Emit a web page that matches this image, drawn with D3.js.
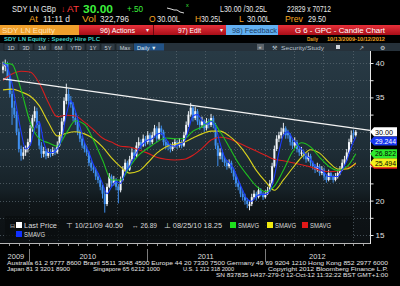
<!DOCTYPE html>
<html lang="en">
<head>
<meta charset="utf-8">
<title>SDY LN - Candle Chart</title>
<script src="https://cdn.jsdelivr.net/npm/d3@7"></script>
<style>
  body { margin: 0; background: #000; }
  svg { display: block; }
  text { font-family: "Liberation Sans", Arial, sans-serif; }
</style>
</head>
<body>
<script>
var w = 400, h = 286;

// weekly candles, week 0 = 13 Oct 2009
var firstWeek = new Date(2009, 9, 13);
var openVals = [
  39.0, 39.5, 40.0, 38.0, 35.5, 33.5, 32.5, 30.0, 27.5, 26.5,
  27.0, 27.5, 28.5, 30.5, 32.0, 33.0, 31.0, 28.0, 26.8, 27.2,
  26.5, 27.0, 26.8, 27.3, 27.0, 28.0, 29.5, 31.5, 34.5, 35.5,
  34.5, 34.0, 32.0, 31.5, 30.0, 29.0, 28.0, 27.5, 27.0, 25.5,
  24.8, 24.5, 23.5, 23.0, 22.0, 21.0, 19.5, 22.0, 23.5, 22.5,
  23.0, 22.0, 21.5, 23.0, 24.5, 25.5, 24.5, 26.0, 27.0, 26.5,
  28.0, 28.5, 28.0, 29.0, 28.5, 29.5, 28.5, 29.5, 30.5, 29.0,
  30.5, 30.0, 28.5, 28.3, 28.0, 27.5, 28.0, 28.5, 28.0, 28.5,
  28.0, 29.5, 31.0, 32.5, 33.5, 32.0, 33.0, 31.5, 31.0, 31.5,
  30.5, 31.5, 31.0, 32.0, 31.0, 28.0, 26.5, 27.0, 26.0, 25.5,
  25.0, 25.5, 24.5, 23.5, 22.5, 22.0, 21.0, 20.5, 20.0, 19.2,
  19.5, 20.5, 21.0, 20.5, 21.5, 21.0, 20.5, 21.0, 21.5, 22.5,
  25.0, 27.5, 29.0, 29.5, 30.0, 30.5, 29.8, 29.5, 28.5, 28.0,
  28.5, 27.5, 26.8, 27.0, 26.5, 26.0, 26.5, 25.5, 25.0, 24.5,
  25.0, 24.0, 24.5, 23.5, 23.0, 24.0, 23.5, 23.0, 23.5, 24.0,
  24.5, 25.5, 26.0, 27.0, 28.5, 29.8, 29.5
];
var highVals = [
  40.2, 40.5, 40.2, 38.5, 36.0, 34.5, 33.0, 30.5, 28.0, 27.8,
  28.0, 29.0, 31.0, 32.5, 33.7, 33.5, 31.5, 28.5, 27.8, 27.5,
  27.6, 27.5, 27.8, 27.7, 28.6, 30.0, 32.0, 35.0, 37.0, 36.2,
  35.2, 34.3, 32.8, 31.8, 30.3, 29.4, 28.5, 28.0, 27.2, 25.9,
  25.3, 24.8, 24.0, 23.3, 22.3, 21.5, 22.5, 24.0, 23.8, 23.6,
  23.3, 22.4, 23.5, 25.0, 26.0, 25.8, 26.5, 27.6, 27.4, 28.5,
  29.2, 28.9, 29.6, 29.4, 30.1, 29.8, 30.0, 31.0, 30.8, 31.4,
  30.9, 30.3, 28.9, 28.6, 28.3, 28.5, 29.0, 28.8, 29.1, 28.8,
  30.0, 31.5, 33.0, 34.2, 33.8, 33.6, 33.3, 31.8, 32.2, 31.8,
  32.0, 31.9, 32.6, 32.3, 31.3, 28.4, 27.6, 27.3, 26.4, 25.9,
  26.0, 25.8, 24.8, 23.8, 22.9, 22.3, 21.5, 21.0, 20.4, 20.0,
  21.0, 21.5, 21.3, 22.0, 21.8, 21.3, 21.5, 22.0, 23.0, 25.5,
  28.0, 29.5, 30.0, 30.6, 31.3, 30.8, 30.3, 29.8, 28.9, 29.2,
  28.8, 27.9, 27.8, 27.3, 26.9, 27.0, 26.8, 25.8, 25.3, 25.5,
  25.3, 25.0, 24.8, 23.8, 24.5, 24.3, 23.8, 24.0, 24.5, 25.0,
  26.0, 26.5, 27.5, 29.0, 30.2, 30.3, 30.25
];
var lowVals = [
  38.5, 38.8, 37.5, 35.0, 31.0, 32.0, 29.5, 27.0, 25.8, 26.0,
  26.5, 27.0, 28.0, 30.0, 31.5, 30.5, 27.5, 26.2, 26.3, 26.0,
  26.2, 26.3, 26.5, 26.6, 26.8, 27.8, 29.0, 31.0, 34.0, 33.8,
  33.5, 31.5, 31.0, 29.5, 28.5, 27.6, 27.0, 26.5, 25.0, 24.3,
  24.0, 23.0, 22.5, 21.5, 20.3, 18.25, 19.2, 21.8, 22.0, 22.2,
  21.5, 19.6, 21.2, 22.8, 24.2, 24.0, 24.3, 25.7, 26.0, 26.3,
  27.6, 27.5, 27.8, 27.9, 28.2, 28.0, 28.2, 29.2, 28.5, 28.8,
  29.5, 28.0, 27.5, 27.3, 27.0, 27.2, 27.7, 27.5, 27.7, 27.6,
  27.8, 29.2, 30.7, 32.2, 31.5, 31.7, 31.0, 30.3, 30.6, 30.0,
  30.2, 30.5, 30.7, 30.5, 27.5, 25.0, 26.0, 25.6, 25.0, 24.5,
  24.7, 24.0, 23.0, 22.0, 21.5, 20.5, 20.0, 19.4, 18.9, 18.6,
  19.2, 20.2, 20.0, 20.3, 20.6, 20.1, 20.3, 20.8, 21.3, 22.3,
  24.8, 27.2, 28.5, 29.0, 29.6, 29.0, 29.0, 28.0, 27.5, 27.7,
  27.0, 26.5, 26.5, 26.0, 25.5, 25.7, 25.0, 24.5, 24.0, 24.2,
  23.6, 23.7, 23.0, 22.6, 22.8, 23.0, 22.6, 22.8, 23.2, 23.7,
  24.3, 25.2, 25.8, 26.8, 28.2, 29.0, 29.3
];
var closeVals = [
  39.5, 40.0, 38.0, 35.5, 33.5, 32.5, 30.0, 27.5, 26.5, 27.0,
  27.5, 28.5, 30.5, 32.0, 33.0, 31.0, 28.0, 26.8, 27.2, 26.5,
  27.0, 26.8, 27.3, 27.0, 28.0, 29.5, 31.5, 34.5, 35.5, 34.5,
  34.0, 32.0, 31.5, 30.0, 29.0, 28.0, 27.5, 27.0, 25.5, 24.8,
  24.5, 23.5, 23.0, 22.0, 21.0, 19.5, 22.0, 23.5, 22.5, 23.0,
  22.0, 21.5, 23.0, 24.5, 25.5, 24.5, 26.0, 27.0, 26.5, 28.0,
  28.5, 28.0, 29.0, 28.5, 29.5, 28.5, 29.5, 30.5, 29.0, 30.5,
  30.0, 28.5, 28.0, 28.0, 27.5, 28.0, 28.5, 28.0, 28.5, 28.0,
  29.5, 31.0, 32.5, 33.5, 32.0, 33.0, 31.5, 31.0, 31.5, 30.5,
  31.5, 31.0, 32.0, 31.0, 28.0, 26.5, 27.0, 26.0, 25.5, 25.0,
  25.5, 24.5, 23.5, 22.5, 22.0, 21.0, 20.5, 20.0, 19.5, 19.5,
  20.5, 21.0, 20.5, 21.5, 21.0, 20.5, 21.0, 21.5, 22.5, 25.0,
  27.5, 29.0, 29.5, 30.0, 30.5, 29.5, 29.5, 28.5, 28.0, 28.5,
  27.5, 27.0, 27.0, 26.5, 26.0, 26.5, 25.5, 25.0, 24.5, 25.0,
  24.0, 24.5, 23.5, 23.0, 24.0, 23.5, 23.0, 23.5, 24.0, 24.5,
  25.5, 26.0, 27.0, 28.5, 29.5, 29.5, 30.0
];

// moving averages: blue every 2 weeks, the others every 4 weeks from week 0
var blueVals = [
  40.0, 39.3, 37.0, 33.5, 30.0, 27.5, 28.0, 30.5, 31.5, 28.5,
  27.0, 27.0, 27.5, 29.0, 32.5, 34.5, 33.0, 30.8, 28.5, 27.0,
  25.2, 24.0, 22.5, 21.0, 22.0, 22.8, 22.5, 24.0, 25.0, 26.3,
  27.5, 28.3, 28.8, 29.0, 29.6, 29.8, 29.0, 28.0, 27.9, 28.2,
  28.5, 30.3, 32.3, 32.5, 31.7, 31.1, 31.5, 30.7, 28.3, 26.3,
  25.5, 24.6, 23.0, 21.5, 20.2, 19.9, 20.6, 20.9, 20.9, 21.5,
  23.5, 27.0, 29.5, 30.0, 29.0, 28.2, 27.5, 26.6, 26.0, 25.1,
  24.6, 24.1, 23.5, 23.5, 23.5, 24.5, 25.8, 27.8, 29.244
];
var greenVals = [
  40.0, 39.8, 36.1, 31.4, 29.0, 28.4, 27.9, 29.8, 31.6, 31.1,
  28.8, 25.9, 23.0, 23.0, 24.9, 26.6, 27.6, 28.5, 29.1, 29.0,
  29.0, 30.1, 30.7, 31.6, 30.0, 27.8, 25.5, 23.7, 22.1, 21.3,
  22.1, 24.4, 27.1, 28.4, 27.8, 26.3, 25.0, 24.4, 24.9, 26.822
];
var yellowVals = [
  36.1, 36.2, 35.8, 35.2, 33.8, 31.4, 29.4, 29.8, 30.0, 29.7,
  29.0, 27.8, 26.2, 24.9, 24.0, 24.3, 25.5, 26.9, 27.8, 28.2,
  28.5, 29.1, 29.7, 30.1, 30.1, 29.4, 28.2, 26.5, 24.4, 22.8,
  21.5, 23.0, 24.7, 26.3, 27.4, 26.9, 25.6, 24.6, 24.6, 25.494
];
var redVals = [
  37.5, 38.4, 38.8, 38.7, 37.1, 34.3, 32.2, 32.4, 32.3, 31.4,
  30.3, 29.1, 28.5, 27.9, 27.8, 27.4, 26.9, 26.3, 26.0, 25.9,
  26.0, 26.6, 27.6, 28.8, 29.2, 29.0, 28.4, 27.8, 27.2, 26.6,
  26.0, 25.8, 25.5, 25.2, 24.9, 24.4, 24.2, 24.3, 24.7, 25.3
];

// drawn trend line
var trendDates = [new Date(2009, 9, 13), new Date(2012, 10, 22)];
var trendVals = [37.7, 30.2];

var endLabels = ["30.00", "29.244", "26.822", "25.494"];
var priceTicks = [15, 20, 25, 30, 35, 40];
var yearLabels = ["2009", "2010", "2011", "2012"];

var footer1 = "Australia 61 2 9777 8600 Brazil 5511 3048 4500 Europe 44 20 7330 7500 Germany 49 69 9204 1210 Hong Kong 852 2977 6000";
var footer2 = ["Japan 81 3 3201 8900", "Singapore 65 6212 1000", "U.S. 1 212 318 2000", "Copyright 2012 Bloomberg Finance L.P."];
var footer3 = "SN 837835 H437-279-0 12-Oct-12 11:32:22 BST  GMT+1:00";

var plotTop = 51, plotBottom = 243, plotLeft = 0, plotRight = 370;

var x = d3.scaleTime()
  .domain([new Date(2009, 9, 13), new Date(2012, 10, 22)])
  .range([3, plotRight]);
var y = d3.scaleLinear().domain([15, 40]).range([235, 63]);

var weekDate = function(i) { return d3.timeDay.offset(firstWeek, 7 * i); };

var svg = d3.select("body").append("svg")
  .attr("width", w).attr("height", h)
  .style("background", "#000");

var defs = svg.append("defs");
var bg = defs.append("linearGradient").attr("id", "plotbg")
  .attr("x1", 0).attr("y1", 0).attr("x2", 0).attr("y2", 1);
bg.append("stop").attr("offset", "0%").attr("stop-color", "#283a45");
bg.append("stop").attr("offset", "50%").attr("stop-color", "#1f2e37");
bg.append("stop").attr("offset", "72%").attr("stop-color", "#162127");
bg.append("stop").attr("offset", "80%").attr("stop-color", "#0f1518");
bg.append("stop").attr("offset", "100%").attr("stop-color", "#0c1013");
var redbar = defs.append("linearGradient").attr("id", "redbar")
  .attr("x1", 0).attr("y1", 0).attr("x2", 0).attr("y2", 1);
redbar.append("stop").attr("offset", "0%").attr("stop-color", "#e8303a");
redbar.append("stop").attr("offset", "100%").attr("stop-color", "#a80e18");
defs.append("clipPath").attr("id", "plotclip").append("rect")
  .attr("x", plotLeft).attr("y", plotTop)
  .attr("width", plotRight - plotLeft).attr("height", plotBottom - plotTop);

function label(px, py, s, fill, size, opt) {
  opt = opt || {};
  var t = svg.append("text").attr("x", px).attr("y", py).text(s)
    .attr("fill", fill).attr("font-size", size);
  if (opt.len) t.attr("textLength", opt.len).attr("lengthAdjust", "spacingAndGlyphs");
  if (opt.weight) t.attr("font-weight", opt.weight);
  if (opt.anchor) t.attr("text-anchor", opt.anchor);
  return t;
}

// ---- header ----
var orange = "#f5a623", white = "#e8e8e8", green = "#3cf03c";
label(12, 12, "SDY LN GBp", white, 8.5, {len: 44});
label(61, 12, "\u2193", "#ff2a2a", 8.5, {weight: "bold"});
label(67, 12, "AT", "#ff3b3b", 8.5, {len: 12});
label(83, 13, "30.00", green, 10.5, {len: 30, weight: "bold"});
label(127, 12, "+.50", green, 8.5, {len: 16});
svg.append("path").attr("d", "M167,8 L171,9 L174,10 L177,10 L180,12 L184,13")
  .attr("fill", "none").attr("stroke", "#ddd").attr("stroke-width", 1);
label(186, 7, "x", green, 5.5);
label(220, 12, "L30.00 /30.25L", white, 8.5, {len: 47});
label(287, 12, "22829 x 70712", white, 8.5, {len: 44});

label(29, 22, "At", orange, 8.5, {len: 9});
label(43, 22, "11:11 d", white, 8.5, {len: 27});
label(82, 22, "Vol", orange, 8.5, {len: 14});
label(100, 22, "322,796", white, 8.5, {len: 29});
label(149, 22, "O", orange, 8.5);
label(157, 22, "30.00L", white, 8.5, {len: 23});
label(195, 22, "H", orange, 8.5);
label(201, 22, "30.25L", white, 8.5, {len: 21});
label(239, 22, "L", orange, 8.5);
label(247, 22, "30.00L", white, 8.5, {len: 23});
label(285, 22, "Prev", orange, 8.5, {len: 18});
label(308, 22, "29.50", white, 8.5, {len: 18});

// menu bar
svg.append("rect").attr("x", 0).attr("y", 25).attr("width", 79).attr("height", 10).attr("fill", "#f0a02c");
label(2, 33, "SDY LN Equity", "#ffe2b4", 8, {len: 53});
svg.append("rect").attr("x", 79).attr("y", 25).attr("width", 321).attr("height", 10).attr("fill", "url(#redbar)");
svg.append("rect").attr("x", 153).attr("y", 25).attr("width", 1).attr("height", 10).attr("fill", "#6a0810");
svg.append("rect").attr("x", 226).attr("y", 25).attr("width", 52).attr("height", 10).attr("fill", "#62b0f2");
label(100, 33, "96) Actions", "#fff", 8, {len: 35});
label(146, 32, "\u25be", "#eee", 6);
label(178, 33, "97) Edit", "#fff", 8, {len: 23});
label(220, 32, "\u25be", "#eee", 6);
label(232, 33, "98) Feedback", "#1b3d66", 8, {len: 45});
label(295, 33, "G 6 - GPC - Candle Chart", "#fff", 8, {len: 90});

label(4, 41, "SDY LN Equity : Speedy Hire PLC", "#3fcfc6", 5.8, {len: 96, weight: "bold"});
label(307, 41, "Daily", "#f0a020", 5.8, {len: 11, weight: "bold"});
label(327, 41, "10/13/2009-10/12/2012", "#f0a020", 5.8, {len: 58, weight: "bold"});

// toolbar
svg.append("rect").attr("x", 0).attr("y", 43).attr("width", 400).attr("height", 8).attr("fill", "#26313a");
var tbX = [4, 19, 34, 51, 67, 86, 101, 116];
var tbLab = ["1D", "3D", "1M", "6M", "YTD", "1Y", "5Y", "Max"];
var tbW = [14, 14, 16, 15, 18, 14, 14, 18];
tbLab.forEach(function(s, i) {
  svg.append("rect").attr("x", tbX[i]).attr("y", 43.5).attr("width", tbW[i]).attr("height", 7)
    .attr("fill", "#2e3a44").attr("stroke", "#151b20").attr("stroke-width", 0.6);
  label(tbX[i] + tbW[i] / 2, 49.5, s, "#c5ced6", 5.6, {anchor: "middle"});
});
svg.append("rect").attr("x", 134).attr("y", 43.5).attr("width", 30).attr("height", 7).attr("fill", "#225286");
label(137, 49.5, "Daily \u25bc", "#dfe8f2", 5.6);
svg.append("rect").attr("x", 257).attr("y", 44).attr("width", 7).attr("height", 6).attr("fill", "#5c646b");
label(258.5, 49, "\u00ab", "#ddd", 5.5);
label(272, 49.5, "\u2692", "#b8c4cf", 6);
label(281, 49.5, "Security/Study", "#b8c4cf", 5.8, {len: 43});
svg.append("rect").attr("x", 336).attr("y", 45).attr("width", 4).attr("height", 4).attr("fill", "#cfd6dc");
label(359, 49.5, "\u2197", "#cfd6dc", 6);
label(380, 49.5, "\u2699", "#cfd6dc", 6);

// ---- plot area ----
svg.append("rect").attr("x", plotLeft).attr("y", plotTop)
  .attr("width", plotRight - plotLeft).attr("height", plotBottom - plotTop)
  .attr("fill", "url(#plotbg)");

var plot = svg.append("g").attr("clip-path", "url(#plotclip)");

// grid
plot.selectAll("line.vgrid")
  .data(d3.timeMonth.every(3).range(x.domain()[0], x.domain()[1]))
  .enter().append("line").attr("class", "vgrid")
  .attr("x1", function(d) { return Math.round(x(d)) + 0.5; })
  .attr("x2", function(d) { return Math.round(x(d)) + 0.5; })
  .attr("y1", plotTop).attr("y2", plotBottom)
  .attr("stroke", "#5d6a73").attr("stroke-width", 0.7).attr("stroke-dasharray", "1,2");
plot.selectAll("line.hgrid")
  .data(d3.range(15, 40.1, 2.5))
  .enter().append("line").attr("class", "hgrid")
  .attr("x1", plotLeft).attr("x2", plotRight)
  .attr("y1", function(d) { return Math.round(y(d)) + 0.5; })
  .attr("y2", function(d) { return Math.round(y(d)) + 0.5; })
  .attr("stroke", "#5d6a73").attr("stroke-width", 0.7).attr("stroke-dasharray", "1,2");

// candles
var candles = closeVals.map(function(c, i) {
  return {date: weekDate(i), o: openVals[i], hi: highVals[i], lo: lowVals[i], c: c};
});
var upCol = "#f2f6fa", downCol = "#3f8ff0";
var cg = plot.selectAll("g.candle").data(candles).enter().append("g").attr("class", "candle");
cg.append("line")
  .attr("x1", function(d) { return x(d.date); })
  .attr("x2", function(d) { return x(d.date); })
  .attr("y1", function(d) { return y(d.hi); })
  .attr("y2", function(d) { return y(d.lo); })
  .attr("stroke", function(d) { return d.c >= d.o ? "#e4eaf0" : downCol; })
  .attr("stroke-width", 1);
cg.append("rect")
  .attr("x", function(d) { return x(d.date) - 1; })
  .attr("width", 2)
  .attr("y", function(d) { return y(Math.max(d.o, d.c)); })
  .attr("height", function(d) { return Math.max(1, Math.abs(y(d.o) - y(d.c))); })
  .attr("fill", function(d) { return d.c >= d.o ? upCol : downCol; });

// moving averages
function smaLine(vals, step, color) {
  var pts = vals.map(function(v, i) { return [weekDate(i * step), v]; });
  plot.append("path").datum(pts)
    .attr("d", d3.line().curve(d3.curveMonotoneX)
      .x(function(d) { return x(d[0]); })
      .y(function(d) { return y(d[1]); }))
    .attr("fill", "none").attr("stroke", color).attr("stroke-width", 1.1);
}
smaLine(redVals, 4, "#d81e1e");
smaLine(yellowVals, 4, "#d9d21c");
smaLine(greenVals, 4, "#1fc21f");
smaLine(blueVals, 2, "#1c3cff");

// trend line
plot.append("path").datum(trendDates.map(function(d, i) { return [d, trendVals[i]]; }))
  .attr("d", d3.line().x(function(d) { return x(d[0]); }).y(function(d) { return y(d[1]); }))
  .attr("fill", "none").attr("stroke", "#f4f4f4").attr("stroke-width", 1.4);

// legend
svg.append("rect").attr("x", 5).attr("y", 216).attr("width", 348).attr("height", 23)
  .attr("fill", "#0a0d0f").attr("opacity", 0.75);
label(9.5, 228, "\u229f", "#bbb", 6);
svg.append("rect").attr("x", 16).attr("y", 222).attr("width", 6).attr("height", 6).attr("fill", "#fff");
label(24, 228, "Last Price", "#dcdcdc", 6.5, {len: 33});
label(66, 228, "\u22a4 10/21/09 40.50", "#dcdcdc", 6.5, {len: 57});
label(132, 228, "\u2194 26.89", "#dcdcdc", 6.5, {len: 25});
label(164, 228, "\u22a5 08/25/10 18.25", "#dcdcdc", 6.5, {len: 58});
var legSq = [[230, "#1ee01e"], [267, "#f0ea10"], [302, "#e01818"]];
legSq.forEach(function(s) {
  svg.append("rect").attr("x", s[0]).attr("y", 222).attr("width", 6).attr("height", 6).attr("fill", s[1]);
  label(s[0] + 8, 228, "SMAVG", "#dcdcdc", 6.5, {len: 21});
});
svg.append("rect").attr("x", 16).attr("y", 231).attr("width", 6).attr("height", 6).attr("fill", "#1030ff");
label(24, 237, "SMAVG", "#dcdcdc", 6.5, {len: 21});

// ---- x axis ----
svg.append("line").attr("x1", plotLeft).attr("x2", plotRight)
  .attr("y1", plotBottom + 0.5).attr("y2", plotBottom + 0.5)
  .attr("stroke", "#b8b8b8").attr("stroke-width", 1);
svg.selectAll("line.mtick")
  .data(d3.timeMonth.range(x.domain()[0], x.domain()[1]))
  .enter().append("line").attr("class", "mtick")
  .attr("x1", function(d) { return Math.round(x(d)) + 0.5; })
  .attr("x2", function(d) { return Math.round(x(d)) + 0.5; })
  .attr("y1", plotBottom).attr("y2", plotBottom + 3)
  .attr("stroke", "#b8b8b8").attr("stroke-width", 0.8);
var yearStarts = yearLabels.map(function(s) { return new Date(+s, 0, 1); });
svg.selectAll("line.ysep").data(yearStarts.slice(1)).enter().append("line")
  .attr("x1", function(d) { return Math.round(x(d)) + 0.5; })
  .attr("x2", function(d) { return Math.round(x(d)) + 0.5; })
  .attr("y1", 249).attr("y2", 262)
  .attr("stroke", "#9a9a9a").attr("stroke-width", 0.8);
svg.selectAll("text.year").data(yearLabels).enter().append("text")
  .attr("x", function(s, i) {
    var a = Math.max(x.range()[0], x(yearStarts[i]));
    var b = i < yearLabels.length - 1 ? x(yearStarts[i + 1]) : x.range()[1];
    return (a + b) / 2;
  })
  .attr("y", 259).attr("text-anchor", "middle")
  .attr("font-size", 7.5).attr("fill", "#dcdcdc").text(function(s) { return s; });

// ---- end-of-series value tags ----
var redEnd = redVals[redVals.length - 1];
var tags = [
  {v: yellowVals[yellowVals.length - 1], s: endLabels[3], bg: "#f2f21c", fg: "#000", dy: 0},
  {v: greenVals[greenVals.length - 1], s: endLabels[2], bg: "#2ee82e", fg: "#000", dy: 0},
  {v: blueVals[blueVals.length - 1], s: endLabels[1], bg: "#1838f0", fg: "#fff", dy: 4},
  {v: closeVals[closeVals.length - 1], s: endLabels[0], bg: "#ffffff", fg: "#000", dy: 0}
];
var tagY = tags.map(function(d) { return y(d.v) + d.dy; }).concat([y(redEnd)]);

// ---- right axis (tick labels hidden where a tag covers them) ----
svg.append("rect").attr("x", plotRight).attr("y", plotTop).attr("width", w - plotRight)
  .attr("height", plotBottom - plotTop).attr("fill", "#000");
svg.append("line").attr("x1", plotRight + 0.5).attr("x2", plotRight + 0.5)
  .attr("y1", plotTop).attr("y2", plotBottom + 1).attr("stroke", "#e6e6e6");
var yAxis = d3.axisRight(y).tickValues(d3.range(15, 40.1, 2.5))
  .tickSize(3).tickSizeOuter(0).tickPadding(2)
  .tickFormat(function(d) {
    if (priceTicks.indexOf(d) < 0) return "";
    var covered = tagY.some(function(t) { return Math.abs(t - y(d)) < 8; });
    return covered ? "" : d;
  });
var ya = svg.append("g").attr("transform", "translate(" + (plotRight + 0.5) + ",0)").call(yAxis);
ya.select(".domain").remove();
ya.selectAll("line").attr("stroke", "#e6e6e6");
ya.selectAll("text").attr("fill", "#e0e0e0").attr("font-size", 8)
  .attr("font-family", "Liberation Sans, Arial, sans-serif");

// red tag sits hidden under the yellow one
svg.append("path")
  .attr("transform", "translate(" + plotRight + "," + y(redEnd) + ")")
  .attr("d", "M0,0 L4,-4.5 L27,-4.5 L27,4.5 L4,4.5 Z").attr("fill", "#e01818");
var tg = svg.selectAll("g.tag").data(tags).enter().append("g").attr("class", "tag")
  .attr("transform", function(d) { return "translate(" + plotRight + "," + (y(d.v) + d.dy) + ")"; });
tg.append("path").attr("d", "M0,0 L4,-4.5 L27,-4.5 L27,4.5 L4,4.5 Z")
  .attr("fill", function(d) { return d.bg; });
tg.append("text").attr("x", 5).attr("y", 2.8).attr("font-size", 7)
  .attr("fill", function(d) { return d.fg; })
  .attr("textLength", function(d) { return d.s.length > 5 ? 21 : 18; })
  .attr("lengthAdjust", "spacingAndGlyphs")
  .text(function(d) { return d.s; });

// ---- footer ----
var ff = "DejaVu Sans Mono, monospace";
label(7, 265, footer1, "#e6e6e6", 5.4, {len: 381}).attr("font-family", ff);
var f2x = [7, 93, 183, 268], f2w = [63, 67, 51, 120];
footer2.forEach(function(s, i) {
  label(f2x[i], 271, s, "#e6e6e6", 5.4, {len: f2w[i]}).attr("font-family", ff);
});
label(216, 277, footer3, "#e6e6e6", 5.4, {len: 172}).attr("font-family", ff);
</script>
</body>
</html>
